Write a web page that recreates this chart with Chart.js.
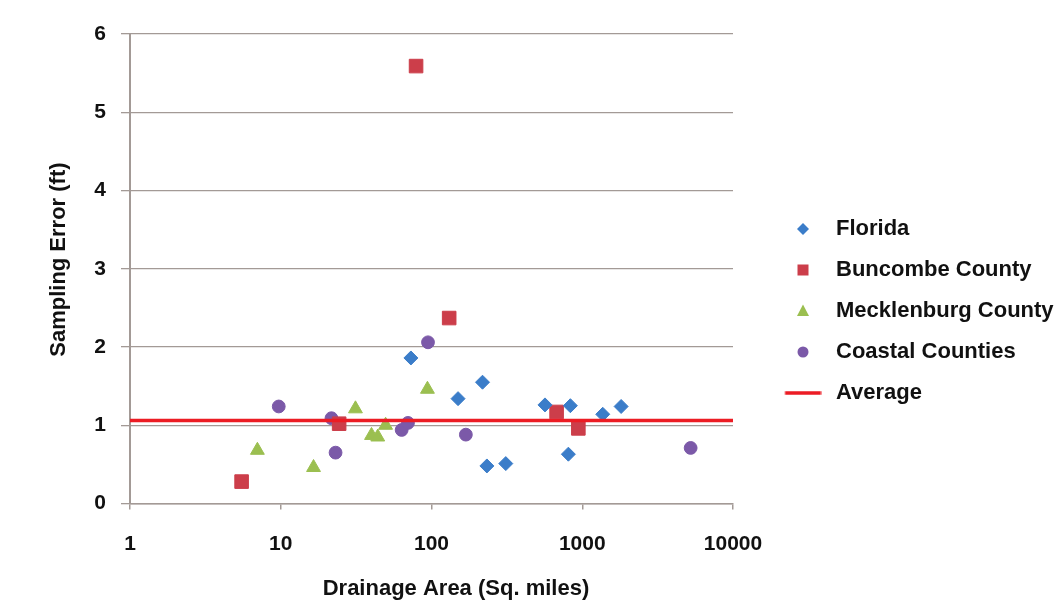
<!DOCTYPE html>
<html>
<head>
<meta charset="utf-8">
<title>Sampling Error vs Drainage Area</title>
<script src="https://cdn.jsdelivr.net/npm/chart.js@4.4.1/dist/chart.umd.min.js"></script>
<style>
  html, body { margin: 0; padding: 0; background: #ffffff; }
  #wrap { width: 1060px; height: 609px; position: relative; }
</style>
</head>
<body>
<div id="wrap"><canvas id="chart"></canvas></div>
<script>
// Drainage area (sq. miles) and sampling error (ft) for each study group
const floridaArea  = [73, 150, 218, 233, 311, 566, 809, 834, 1368, 1811];
const floridaError = [1.86, 1.34, 1.55, 0.48, 0.51, 1.26, 0.63, 1.25, 1.14, 1.24];

const buncombeArea  = [5.5, 24.4, 79, 131, 676, 942];
const buncombeError = [0.28, 1.02, 5.59, 2.37, 1.17, 0.96];

const mecklenburgArea  = [7.0, 16.5, 31.3, 40, 44, 49.6, 94];
const mecklenburgError = [0.68, 0.46, 1.21, 0.87, 0.85, 1.0, 1.46];

const coastalArea  = [9.7, 21.7, 23.1, 63.4, 69.8, 94.8, 169, 5236];
const coastalError = [1.24, 1.09, 0.65, 0.94, 1.03, 2.06, 0.88, 0.71];

// Overall average sampling error, drawn across the full area range
const averageError = 1.06;
const averageSpan  = [1, 10000];

const seriesNames = ['Florida', 'Buncombe County', 'Mecklenburg County', 'Coastal Counties', 'Average'];
const xTickValues = [1, 10, 100, 1000, 10000];
const yTickValues = [0, 1, 2, 3, 4, 5, 6];
const xTitle = 'Drainage Area (Sq. miles)';
const yTitle = 'Sampling Error (ft)';

const COLORS = {
  florida: '#3b7dc9',
  buncombe: '#cc3e4a',
  mecklenburg: '#9bbf50',
  coastal: '#7b59a8',
  average: '#ec1c24',
  grid: '#a39a96',
  text: '#111111'
};
const FONT_FAMILY = '"Liberation Sans", Arial, Helvetica, sans-serif';

function pairs(xs, ys) {
  return xs.map((x, i) => ({ x: x, y: ys[i] }));
}

// Axis titles sit a little off the centre of their axes; leading blanks
// nudge them along the axis direction.
function nudged(text, blanks) {
  return ' '.repeat(blanks) + text;
}

// Small legend swatches; the marker sits right of the canvas centre so it
// lines up with the legend text column.
function swatch(w, h, draw) {
  const c = document.createElement('canvas');
  c.width = w; c.height = h;
  draw(c.getContext('2d'), w, h);
  return c;
}
const MX = 37, MY = 10;   // marker centre inside a 45x20 swatch
const legendSwatches = [
  swatch(45, 20, (g) => {
    g.fillStyle = COLORS.florida; g.beginPath();
    g.moveTo(MX, MY - 6); g.lineTo(MX + 6, MY); g.lineTo(MX, MY + 6); g.lineTo(MX - 6, MY);
    g.closePath(); g.fill();
  }),
  swatch(45, 20, (g) => {
    g.fillStyle = COLORS.buncombe; g.fillRect(MX - 5.5, MY - 5.5, 11, 11);
  }),
  swatch(45, 20, (g) => {
    g.fillStyle = COLORS.mecklenburg; g.beginPath();
    g.moveTo(MX, MY - 6.5); g.lineTo(MX + 6, MY + 5); g.lineTo(MX - 6, MY + 5);
    g.closePath(); g.fill();
  }),
  swatch(45, 20, (g) => {
    g.fillStyle = COLORS.coastal; g.beginPath();
    g.arc(MX, MY, 5.5, 0, Math.PI * 2); g.fill();
  }),
  swatch(66, 6, (g) => {
    g.fillStyle = COLORS.average; g.fillRect(29.5, 1.25, 36, 3.5);
  })
];

const datasets = [
  {
    type: 'scatter', label: seriesNames[0], data: pairs(floridaArea, floridaError),
    pointStyle: 'rectRot', pointRadius: 7, backgroundColor: COLORS.florida,
    borderColor: COLORS.florida, borderWidth: 1, order: 1
  },
  {
    type: 'scatter', label: seriesNames[1], data: pairs(buncombeArea, buncombeError),
    pointStyle: 'rect', pointRadius: 9.6, backgroundColor: COLORS.buncombe,
    borderColor: COLORS.buncombe, borderWidth: 1, order: 2
  },
  {
    type: 'scatter', label: seriesNames[2], data: pairs(mecklenburgArea, mecklenburgError),
    pointStyle: 'triangle', pointRadius: 8, backgroundColor: COLORS.mecklenburg,
    borderColor: COLORS.mecklenburg, borderWidth: 1, order: 3
  },
  {
    type: 'scatter', label: seriesNames[3], data: pairs(coastalArea, coastalError),
    pointStyle: 'circle', pointRadius: 6.4, backgroundColor: COLORS.coastal,
    borderColor: COLORS.coastal, borderWidth: 1, order: 4
  },
  {
    type: 'line', label: seriesNames[4],
    data: averageSpan.map((x) => ({ x: x, y: averageError })),
    borderColor: COLORS.average, backgroundColor: COLORS.average, borderWidth: 3.5,
    pointRadius: 0, fill: false, order: 0
  }
];

new Chart(document.getElementById('chart'), {
  data: { datasets: datasets },
  options: {
    responsive: true,
    maintainAspectRatio: false,
    animation: false,
    layout: { padding: { top: 34, left: 40, right: 5, bottom: 0 } },
    scales: {
      x: {
        type: 'logarithmic',
        min: xTickValues[0],
        max: xTickValues[xTickValues.length - 1],
        afterBuildTicks: (scale) => { scale.ticks = xTickValues.map((v) => ({ value: v })); },
        afterFit: (scale) => { scale.height = 105.5; },
        ticks: {
          autoSkip: false, maxRotation: 0, padding: 22, color: COLORS.text,
          font: { family: FONT_FAMILY, size: 21, weight: 'bold' },
          callback: (v) => String(v)
        },
        grid: { drawOnChartArea: false, drawTicks: true, tickLength: 6, color: COLORS.grid, lineWidth: 1.5 },
        border: { display: true, color: COLORS.grid, width: 1.5 },
        title: {
          display: true, text: nudged(xTitle, 8), color: COLORS.text,
          font: { family: FONT_FAMILY, size: 22, weight: 'bold' },
          padding: { top: 0, bottom: 7 }
        }
      },
      y: {
        type: 'linear',
        min: yTickValues[0],
        max: yTickValues[yTickValues.length - 1],
        afterBuildTicks: (scale) => { scale.ticks = yTickValues.map((v) => ({ value: v })); },
        afterFit: (scale) => { scale.width = 90; },
        ticks: {
          padding: 15, color: COLORS.text,
          font: { family: FONT_FAMILY, size: 21, weight: 'bold' }
        },
        grid: { color: COLORS.grid, lineWidth: 1.3, tickLength: 9, drawTicks: true },
        border: { display: true, color: COLORS.grid, width: 2 },
        title: {
          display: true, text: nudged(yTitle, 3), color: COLORS.text,
          font: { family: FONT_FAMILY, size: 22, weight: 'bold' },
          padding: { top: 6, bottom: 0 }
        }
      }
    },
    plugins: {
      tooltip: { enabled: false },
      legend: {
        position: 'right',
        align: 'start',
        maxWidth: 322,
        title: { display: true, text: ' ', font: { size: 12 }, padding: { top: 150.6, bottom: 0 } },
        labels: {
          usePointStyle: true,
          pointStyleWidth: 73,
          padding: 19,
          color: COLORS.text,
          font: { family: FONT_FAMILY, size: 22, weight: 'bold' },
          sort: (a, b) => a.datasetIndex - b.datasetIndex,
          generateLabels: (chart) => {
            const items = Chart.defaults.plugins.legend.labels.generateLabels(chart);
            items.forEach((it) => { it.pointStyle = legendSwatches[it.datasetIndex]; it.rotation = 0; });
            return items;
          }
        }
      }
    }
  }
});
</script>
</body>
</html>
